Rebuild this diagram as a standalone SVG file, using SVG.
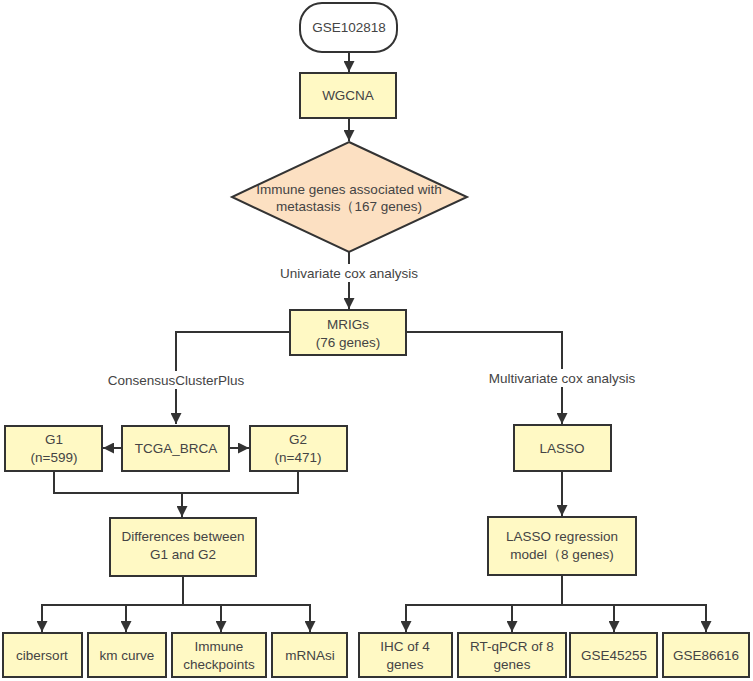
<svg xmlns="http://www.w3.org/2000/svg" width="753" height="681" viewBox="0 0 753 681">
<style>
.b{fill:#FFF9C4;stroke:#333;stroke-width:2}
.d{fill:#FCE0C2;stroke:#333;stroke-width:2}
.s{fill:#fff;stroke:#333;stroke-width:2}
text{font-family:"Liberation Sans",Arial,sans-serif;font-size:13.5px;fill:#444;text-anchor:middle}
.c path{fill:none;stroke:#333;stroke-width:2}
.lb{fill:#fff}
</style>
<defs>
<marker id="a" viewBox="0 0 10 10" refX="10" refY="5" markerWidth="5.5" markerHeight="5.5" orient="auto" markerUnits="strokeWidth">
<path d="M0,0L10,5L0,10z" fill="#333"/>
</marker>
</defs>
<g class="c" id="connectors">
<path d="M349,52V72" marker-end="url(#a)"/>
<path d="M349,118V141" marker-end="url(#a)"/>
<path d="M349,252V309" marker-end="url(#a)"/>
<path d="M290,332H176V424" marker-end="url(#a)"/>
<path d="M406,332H562V424" marker-end="url(#a)"/>
<path d="M122,448H103" marker-end="url(#a)"/>
<path d="M229,448H249" marker-end="url(#a)"/>
<path d="M54,471V493H298V471"/>
<path d="M182,493V517" marker-end="url(#a)"/>
<path d="M562,471V516" marker-end="url(#a)"/>
<path d="M183,576V605"/>
<path d="M42,632V605H310V632" marker-end="url(#a)"/>
<path d="M126,605V632" marker-end="url(#a)"/>
<path d="M221,605V632" marker-end="url(#a)"/>
<path d="M42,605V632" marker-end="url(#a)"/>
<path d="M562,575V605"/>
<path d="M406,632V605H706V632" marker-end="url(#a)"/>
<path d="M512,605V632" marker-end="url(#a)"/>
<path d="M614,605V632" marker-end="url(#a)"/>
<path d="M406,605V632" marker-end="url(#a)"/>
<rect class="lb" x="272" y="264" width="154" height="18"/>
<text x="349" y="278">Univariate cox analysis</text>
<rect class="lb" x="104" y="371" width="144" height="18"/>
<text x="176" y="385">ConsensusClusterPlus</text>
<rect class="lb" x="485" y="369" width="154" height="18"/>
<text x="562" y="383">Multivariate cox analysis</text>
</g>
<g id="gse102818"><rect class="s" x="300" y="3" width="97" height="49" rx="22"/><text x="349" y="32">GSE102818</text></g>
<g id="wgcna"><rect class="b" x="300" y="73" width="96" height="45"/><text x="348" y="100">WGCNA</text></g>
<g id="immune"><path class="d" d="M349,142L467,197L349,252L232,197z"/><text x="349" y="194">Immune genes associated with</text><text x="349" y="211">metastasis（167 genes)</text></g>
<g id="mrigs"><rect class="b" x="290" y="310" width="116" height="45"/><text x="348" y="329">MRIGs</text><text x="348" y="347">(76 genes)</text></g>
<g id="g1"><rect class="b" x="5" y="426" width="97" height="45"/><text x="54" y="444">G1</text><text x="54" y="462">(n=599)</text></g>
<g id="tcga"><rect class="b" x="122" y="426" width="107" height="45"/><text x="176" y="453">TCGA_BRCA</text></g>
<g id="g2"><rect class="b" x="250" y="426" width="97" height="45"/><text x="298" y="444">G2</text><text x="298" y="462">(n=471)</text></g>
<g id="lasso"><rect class="b" x="514" y="425" width="97" height="46"/><text x="562" y="453">LASSO</text></g>
<g id="diff"><rect class="b" x="110" y="518" width="146" height="58"/><text x="183" y="541">Differences between</text><text x="183" y="559">G1 and G2</text></g>
<g id="model"><rect class="b" x="488" y="517" width="148" height="58"/><text x="562" y="541">LASSO regression</text><text x="562" y="559">model（8 genes)</text></g>
<g id="cibersort"><rect class="b" x="3" y="633" width="79" height="44"/><text x="42" y="660">cibersort</text></g>
<g id="km"><rect class="b" x="88" y="633" width="78" height="44"/><text x="127" y="660">km curve</text></g>
<g id="checkpoints"><rect class="b" x="172" y="633" width="94" height="44"/><text x="219" y="651">Immune</text><text x="219" y="669">checkpoints</text></g>
<g id="mrnasi"><rect class="b" x="272" y="633" width="75" height="44"/><text x="310" y="660">mRNAsi</text></g>
<g id="ihc"><rect class="b" x="359" y="633" width="93" height="44"/><text x="405" y="651">IHC of 4</text><text x="405" y="669">genes</text></g>
<g id="rtqpcr"><rect class="b" x="458" y="633" width="108" height="44"/><text x="512" y="651">RT-qPCR of 8</text><text x="512" y="669">genes</text></g>
<g id="gse45255"><rect class="b" x="570" y="633" width="87" height="44"/><text x="614" y="660">GSE45255</text></g>
<g id="gse86616"><rect class="b" x="663" y="633" width="86" height="44"/><text x="706" y="660">GSE86616</text></g>
</svg>
